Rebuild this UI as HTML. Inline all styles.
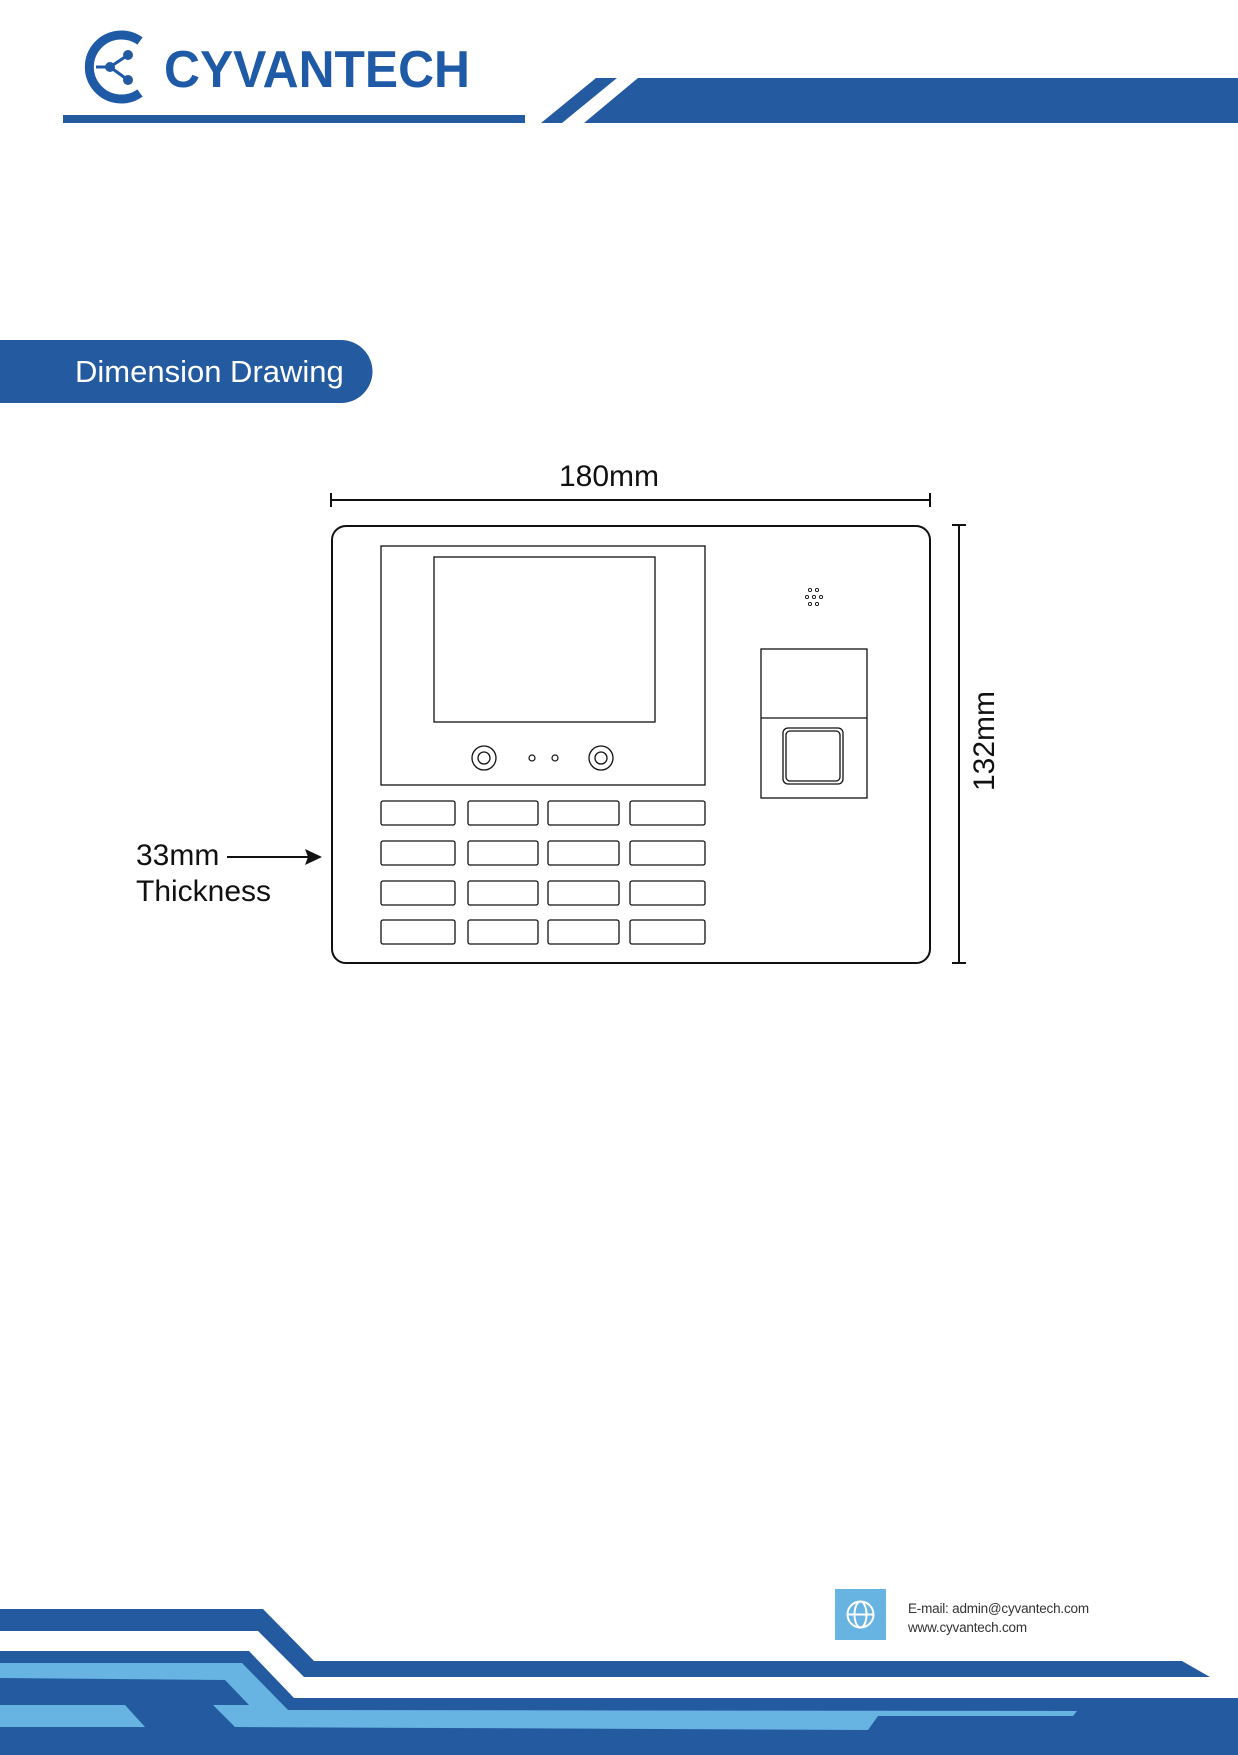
<!DOCTYPE html>
<html><head><meta charset="utf-8"><style>
html,body{margin:0;padding:0;background:#fff}
body{width:1238px;height:1755px;position:relative;overflow:hidden;font-family:"Liberation Sans",sans-serif}
</style></head><body>
<svg width="1238" height="1755" viewBox="0 0 1238 1755" xmlns="http://www.w3.org/2000/svg" style="position:absolute;left:0;top:0">
<!-- header -->
<g fill="#245ba0">
<path d="M 140 41 A 32 32 0 1 0 140 93" fill="none" stroke="#1f5aa6" stroke-width="9"/>
<circle cx="110" cy="67" r="5"/><circle cx="128" cy="55" r="5"/><circle cx="128" cy="80" r="5"/>
<path d="M110 67 L128 55 M110 67 L128 80 M96 67 L110 67" stroke="#1f5aa6" stroke-width="3"/>
<rect x="63" y="115" width="462" height="8"/>
<polygon points="596,78 617,78 562,123 541,123"/>
<polygon points="638,78 1238,78 1238,123 584,123"/>
</g>
<text x="164" y="87" font-family="Liberation Sans" font-weight="bold" font-size="52" fill="#1f5aa6" textLength="306" lengthAdjust="spacingAndGlyphs">CYVANTECH</text>
<!-- section pill -->
<path d="M0 340 H341 A31.5 31.5 0 0 1 341 403 H0 Z" fill="#245ba0"/>
<text x="75" y="382" font-size="31" fill="#fff" font-family="Liberation Sans">Dimension Drawing</text>
<!-- dimensions -->
<g stroke="#111" stroke-width="2" fill="none">
<line x1="331" y1="500" x2="930" y2="500"/><line x1="331" y1="493" x2="331" y2="507"/><line x1="930" y1="493" x2="930" y2="507"/>
<line x1="959" y1="525" x2="959" y2="963"/><line x1="952" y1="525" x2="966" y2="525"/><line x1="952" y1="963" x2="966" y2="963"/>
<line x1="227" y1="857" x2="312" y2="857"/>
</g>
<polygon points="322,857 305,849 308,857 305,865" fill="#111"/>
<text x="609" y="486" font-size="30" text-anchor="middle" fill="#111">180mm</text>
<text transform="translate(994,741) rotate(-90)" font-size="30" text-anchor="middle" fill="#111">132mm</text>
<text x="136" y="865" font-size="30" fill="#111">33mm</text>
<text x="136" y="901" font-size="30" fill="#111">Thickness</text>
<!-- device -->
<g stroke="#111" fill="none">
<rect x="332" y="526" width="598" height="437" rx="14" stroke-width="2"/>
<rect x="381" y="546" width="324" height="239" stroke-width="1.3"/>
<rect x="434" y="557" width="221" height="165" stroke-width="1.3"/>
<circle cx="484" cy="758" r="12" stroke-width="1.3"/><circle cx="484" cy="758" r="6" stroke-width="1.3"/>
<circle cx="601" cy="758" r="12" stroke-width="1.3"/><circle cx="601" cy="758" r="6" stroke-width="1.3"/>
<circle cx="532" cy="758" r="3" stroke-width="1.2"/><circle cx="555" cy="758" r="3" stroke-width="1.2"/>
<g stroke-width="1.3">
<rect x="381" y="801" width="74" height="24" rx="2"/><rect x="468" y="801" width="70" height="24" rx="2"/><rect x="548" y="801" width="71" height="24" rx="2"/><rect x="630" y="801" width="75" height="24" rx="2"/>
<rect x="381" y="841" width="74" height="24" rx="2"/><rect x="468" y="841" width="70" height="24" rx="2"/><rect x="548" y="841" width="71" height="24" rx="2"/><rect x="630" y="841" width="75" height="24" rx="2"/>
<rect x="381" y="881" width="74" height="24" rx="2"/><rect x="468" y="881" width="70" height="24" rx="2"/><rect x="548" y="881" width="71" height="24" rx="2"/><rect x="630" y="881" width="75" height="24" rx="2"/>
<rect x="381" y="920" width="74" height="24" rx="2"/><rect x="468" y="920" width="70" height="24" rx="2"/><rect x="548" y="920" width="71" height="24" rx="2"/><rect x="630" y="920" width="75" height="24" rx="2"/>
<rect x="761" y="649" width="106" height="149"/><line x1="761" y1="718" x2="867" y2="718"/>
<rect x="783" y="728" width="60" height="56" rx="5"/><rect x="786" y="731" width="54" height="50" rx="4"/>
</g>
<g stroke-width="0.9">
<circle cx="810" cy="590" r="1.6"/><circle cx="817" cy="590" r="1.6"/>
<circle cx="807" cy="597" r="1.6"/><circle cx="814" cy="597" r="1.6"/><circle cx="821" cy="597" r="1.6"/>
<circle cx="810" cy="604" r="1.6"/><circle cx="817" cy="604" r="1.6"/>
</g>
</g>
<!-- footer -->
<polygon points="0,1609 263,1609 314,1661 1182,1661 1210,1677 304,1677 258,1631 0,1631" fill="#245ba0"/>
<polygon points="0,1651 249,1651 294,1698 1238,1698 1238,1755 0,1755" fill="#245ba0"/>
<polygon points="0,1663 242,1663 288,1710 1077,1711 1073,1716 878,1716 868,1730 235,1727 213,1705 249,1705 225,1680 0,1678" fill="#67b4e2"/>
<polygon points="0,1705 125,1705 145,1727 0,1727" fill="#67b4e2"/>
<rect x="835" y="1589" width="51" height="51" fill="#67b4e2"/>
<g stroke="#fff" stroke-width="2" fill="none">
<circle cx="860.5" cy="1614.5" r="13"/><ellipse cx="860.5" cy="1614.5" rx="6" ry="13"/><line x1="847.5" y1="1614.5" x2="873.5" y2="1614.5"/>
</g>
<text x="908" y="1613" font-size="13.5" fill="#333" letter-spacing="-0.2">E-mail: admin@cyvantech.com</text>
<text x="908" y="1632" font-size="13.5" fill="#333" letter-spacing="-0.2">www.cyvantech.com</text>
</svg>
</body></html>
